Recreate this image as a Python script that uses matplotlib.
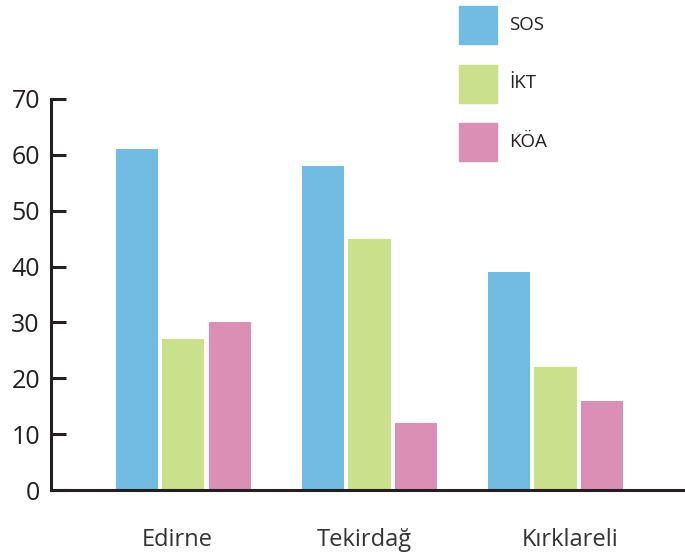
import numpy as np
import matplotlib
matplotlib.use("Agg")
import matplotlib.pyplot as plt
from matplotlib.patches import Rectangle

# Veriler
iller = ['Edirne', 'Tekirdağ', 'Kırklareli']
seriler = ['SOS', 'İKT', 'KÖA']
sos = [61, 58, 39]
ikt = [27, 45, 22]
koa = [30, 12, 16]
renkler = ['#72bbe3', '#cbe08b', '#dc8fb4']
koyu = '#231f20'

plt.rcParams['font.family'] = ['Open Sans', 'DejaVu Sans']

fig = plt.figure(figsize=(6.85, 5.57), dpi=100)
ax = fig.add_axes([51 / 685, 67 / 557, 634 / 685, 391 / 557])

x = np.arange(len(iller))
genislik = 0.226
adim = 0.25
for i, (deger, renk) in enumerate(zip([sos, ikt, koa], renkler)):
    ax.bar(x + (i - 1) * adim, deger, genislik, color=renk, zorder=1)

ax.set_xlim(-0.712, 2.696)
ax.set_ylim(0, 70)
ax.set_yticks(range(0, 71, 10))
ax.set_xticks([])

for s in ['top', 'right']:
    ax.spines[s].set_visible(False)
for s in ['left', 'bottom']:
    ax.spines[s].set_linewidth(2.2)
    ax.spines[s].set_color(koyu)
    ax.spines[s].set_zorder(3)
ax.spines['left'].set_capstyle('projecting')

ax.tick_params(axis='y', direction='in', length=11, width=2.2, color=koyu,
               labelsize=18, labelcolor=koyu, pad=8)

# Il adlari
for xi, ad, kaydir in zip(x, iller, [-0.035, -0.03, 0.08]):
    ax.text(xi + kaydir, -9, ad, ha='center', va='center', fontsize=17,
            color='#333333')

# Lejant
for j, (ad, renk) in enumerate(zip(seriler, renkler)):
    ust = 6 + j * 58.5
    fig.add_artist(Rectangle((459 / 685, 1 - (ust + 38) / 557), 38 / 685, 38 / 557,
                             transform=fig.transFigure, color=renk))
    fig.text(509 / 685, 1 - (ust + 19) / 557, ad, ha='left', va='center',
             fontsize=13.5, color=koyu)

fig.savefig('out.png', dpi=100)
